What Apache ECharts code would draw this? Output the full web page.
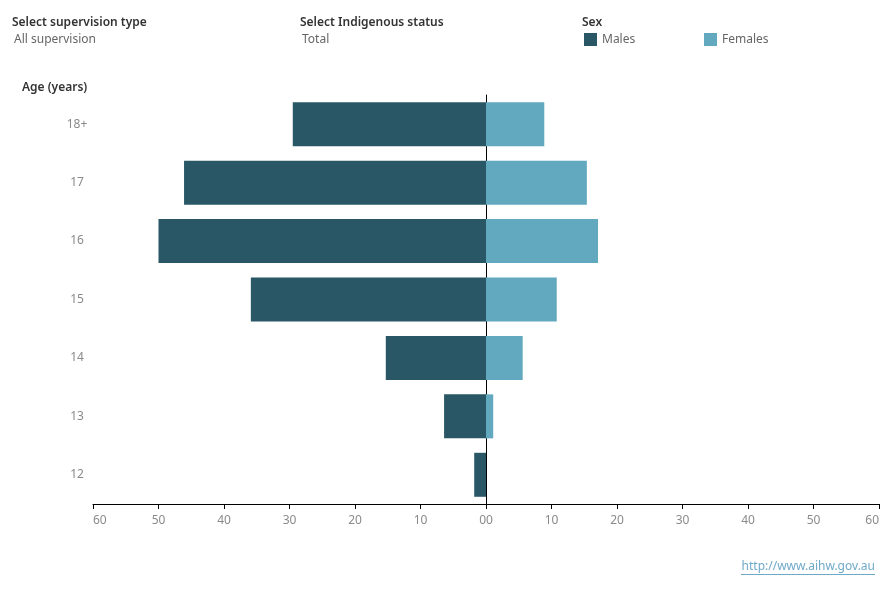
<!DOCTYPE html>
<html>
<head>
<meta charset="utf-8">
<script src="https://cdn.jsdelivr.net/npm/echarts@6/dist/echarts.min.js"></script>
<style>
  html, body { margin: 0; padding: 0; background: #fff; }
  #main { width: 890px; height: 600px; }
</style>
</head>
<body>
<div id="main"></div>
<script>
var chartDom = document.getElementById('main');
var myChart = echarts.init(chartDom);
var option;

// age groups, top to bottom
const ages = ['18+', '17', '16', '15', '14', '13', '12'];
const males = [29.5, 46.1, 50.0, 35.9, 15.3, 6.4, 1.8];
const females = [8.9, 15.4, 17.1, 10.8, 5.6, 1.1, 0];
const axisMax = 60;
const axisStep = 10;

const maleColor = '#2a5766';
const femaleColor = '#62a9c0';
const fontFamily = '"Noto Sans", "Open Sans", sans-serif';
const labelGray = '#8a8a8a';

const valueAxis = (gridIndex, inverse, minAlign, maxAlign) => ({
  type: 'value',
  gridIndex: gridIndex,
  inverse: inverse,
  min: 0,
  max: axisMax,
  interval: axisStep,
  splitLine: { show: false },
  axisLine: { show: true, lineStyle: { color: '#000', width: 1 } },
  axisTick: { show: true, length: 5, lineStyle: { color: '#000' } },
  axisLabel: {
    color: labelGray,
    fontFamily: fontFamily,
    fontSize: 12,
    margin: 11,
    alignMinLabel: minAlign,
    alignMaxLabel: maxAlign
  }
});

const legendText = { color: '#666', fontSize: 12, fontFamily: fontFamily };

option = {
  backgroundColor: '#fff',
  animation: false,
  textStyle: { fontFamily: fontFamily },
  graphic: [
    { type: 'text', left: 12, top: 17, style: { text: 'Select supervision type', fill: '#333', font: '600 12px "Noto Sans", sans-serif' } },
    { type: 'text', left: 14, top: 34, style: { text: 'All supervision', fill: '#666', font: '12px "Noto Sans", sans-serif' } },
    { type: 'text', left: 300, top: 17, style: { text: 'Select Indigenous status', fill: '#333', font: '600 12px "Noto Sans", sans-serif' } },
    { type: 'text', left: 302, top: 34, style: { text: 'Total', fill: '#666', font: '12px "Noto Sans", sans-serif' } },
    { type: 'text', left: 582, top: 17, style: { text: 'Sex', fill: '#333', font: '600 12px "Noto Sans", sans-serif' } },
    { type: 'text', left: 22, top: 82, style: { text: 'Age (years)', fill: '#333', font: '600 12px "Noto Sans", sans-serif' } },
    { type: 'text', right: 15, top: 561, style: { text: 'http://www.aihw.gov.au', fill: '#6fa9c9', font: '12px "Noto Sans", sans-serif' } },
    { type: 'rect', right: 15, top: 574, shape: { width: 134, height: 1 }, style: { fill: '#6fa9c9' } }
  ],
  legend: [
    {
      data: ['Males'], left: 584, top: 33, padding: 0, itemWidth: 13, itemHeight: 13, itemGap: 6,
      icon: 'rect', textStyle: legendText, selectedMode: false
    },
    {
      data: ['Females'], left: 704, top: 33, padding: 0, itemWidth: 13, itemHeight: 13, itemGap: 6,
      icon: 'rect', textStyle: legendText, selectedMode: false
    }
  ],
  grid: [
    { left: 93, right: 404, top: 95, bottom: 96, containLabel: false },
    { left: 486, right: 11, top: 95, bottom: 96, containLabel: false }
  ],
  xAxis: [
    valueAxis(0, true, 'right', 'left'),
    valueAxis(1, false, 'left', 'right')
  ],
  yAxis: [
    {
      type: 'category', gridIndex: 0, data: ages, inverse: true,
      axisLine: { show: false }, axisTick: { show: false },
      axisLabel: { color: labelGray, fontSize: 12, fontFamily: fontFamily, align: 'center', margin: 16 }
    },
    {
      type: 'category', gridIndex: 1, data: ages, inverse: true, position: 'left',
      axisLine: { show: true, lineStyle: { color: '#000', width: 1 } },
      axisTick: { show: false }, axisLabel: { show: false }
    }
  ],
  series: [
    {
      name: 'Males', type: 'bar', xAxisIndex: 0, yAxisIndex: 0,
      data: males, barWidth: 44, itemStyle: { color: maleColor }, z: 1
    },
    {
      name: 'Females', type: 'bar', xAxisIndex: 1, yAxisIndex: 1,
      data: females, barWidth: 44, itemStyle: { color: femaleColor }, z: 1
    }
  ]
};

option && myChart.setOption(option);

window.onresize = function() {
  myChart.resize();
};
</script>
</body>
</html>
